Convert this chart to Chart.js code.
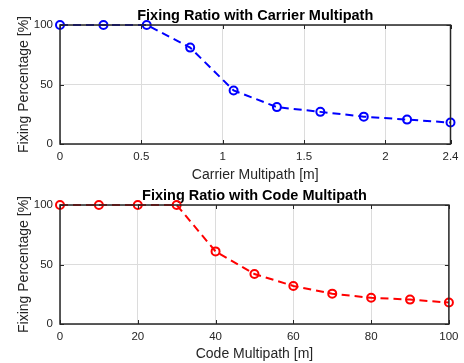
<!DOCTYPE html>
<html>
<head>
<meta charset="utf-8">
<script src="https://cdn.jsdelivr.net/npm/chart.js@4"></script>
<style>
  body { margin: 0; background: #fff; }
  canvas { display: block; }
</style>
</head>
<body>
<canvas id="carrierChart" width="464" height="184"></canvas>
<canvas id="codeChart" width="464" height="179"></canvas>
<script>
"use strict";

// ---------- data ----------
var carrierMultipath = [0, 0.267, 0.533, 0.8, 1.067, 1.333, 1.6, 1.867, 2.133, 2.4];
var carrierFixing = [100, 100, 100, 81, 45, 31, 27, 23, 20.5, 18];
var carrierTicks = [0, 0.5, 1, 1.5, 2, 2.4];

var codeMultipath = [0, 10, 20, 30, 40, 50, 60, 70, 80, 90, 100];
var codeFixing = [100, 100, 100, 100, 61, 42, 32, 25.5, 22, 20.5, 18];
var codeTicks = [0, 20, 40, 60, 80, 100];

var percentTicks = [0, 50, 100];

Chart.defaults.font.family = '"Liberation Sans", Arial, sans-serif';
Chart.defaults.color = "#262626";

// black frame + inward tick marks, matlab style
var boxPlugin = {
  id: "matlabBox",
  afterDatasetsDraw: function (chart) {
    var ctx = chart.ctx;
    var a = chart.chartArea;
    var xs = chart.scales.x;
    var ys = chart.scales.y;
    ctx.save();
    ctx.strokeStyle = "#262626";
    ctx.lineWidth = 1;
    xs.ticks.forEach(function (t) {
      var px = Math.round(xs.getPixelForValue(t.value)) + 0.5;
      ctx.beginPath();
      ctx.moveTo(px, a.bottom);
      ctx.lineTo(px, a.bottom - 4);
      ctx.moveTo(px, a.top);
      ctx.lineTo(px, a.top + 4);
      ctx.stroke();
    });
    ys.ticks.forEach(function (t) {
      var py = Math.round(ys.getPixelForValue(t.value)) + 0.5;
      ctx.beginPath();
      ctx.moveTo(a.left, py);
      ctx.lineTo(a.left + 4, py);
      ctx.moveTo(a.right, py);
      ctx.lineTo(a.right - 4, py);
      ctx.stroke();
    });
    ctx.lineWidth = 1.5;
    ctx.strokeRect(a.left, a.top, a.right - a.left, a.bottom - a.top);
    ctx.restore();
  }
};

function makeChart(id, xs, ys, xTicks, color, title, xTitle, titlePadTop, canvasHeight, plotBottom, xTitlePad) {
  var points = xs.map(function (x, i) {
    return { x: x, y: ys[i] };
  });
  return new Chart(document.getElementById(id), {
    type: "scatter",
    data: {
      datasets: [
        {
          data: points,
          showLine: true,
          borderColor: color,
          backgroundColor: "transparent",
          borderWidth: 2,
          borderDash: [8, 5],
          pointRadius: 4,
          pointBorderWidth: 2,
          pointBorderColor: color,
          pointBackgroundColor: "transparent",
          clip: false
        }
      ]
    },
    options: {
      responsive: false,
      animation: false,
      layout: { padding: { left: 0, right: 11, top: 0, bottom: 0 } },
      plugins: {
        legend: { display: false },
        tooltip: { enabled: false },
        title: {
          display: true,
          fullSize: false,
          text: title,
          color: "#000",
          font: { size: 14.5, weight: "bold" },
          padding: { top: titlePadTop, bottom: 0.2 }
        }
      },
      scales: {
        x: {
          type: "linear",
          min: xTicks[0],
          max: xTicks[xTicks.length - 1],
          afterBuildTicks: function (scale) {
            scale.ticks = xTicks.map(function (v) {
              return { value: v };
            });
          },
          afterFit: function (scale) {
            scale.height = canvasHeight - plotBottom;
          },
          ticks: {
            autoSkip: false,
            maxRotation: 0,
            padding: 5.5,
            font: { size: 11.5 },
            callback: function (v) {
              return String(v);
            }
          },
          grid: { color: "#dcdcdc", drawTicks: false },
          border: { display: false },
          title: {
            display: true,
            text: xTitle,
            font: { size: 14 },
            padding: { top: 0, bottom: xTitlePad }
          }
        },
        y: {
          min: 0,
          max: 100,
          afterBuildTicks: function (scale) {
            scale.ticks = percentTicks.map(function (v) {
              return { value: v };
            });
          },
          afterFit: function (scale) {
            scale.width = 60;
          },
          ticks: { padding: 7, font: { size: 11.5 } },
          grid: { color: "#dcdcdc", drawTicks: false },
          border: { display: false },
          title: {
            display: true,
            text: "Fixing Percentage [%]",
            font: { size: 14 },
            padding: { top: 15.6, bottom: 0 }
          }
        }
      }
    },
    plugins: [boxPlugin]
  });
}

makeChart("carrierChart", carrierMultipath, carrierFixing, carrierTicks, "#0000ff",
  "Fixing Ratio with Carrier Multipath", "Carrier Multipath [m]", 7.4, 184, 144, 0.6);
makeChart("codeChart", codeMultipath, codeFixing, codeTicks, "#ff0000",
  "Fixing Ratio with Code Multipath", "Code Multipath [m]", 3.4, 179, 140, 0);
</script>
</body>
</html>
